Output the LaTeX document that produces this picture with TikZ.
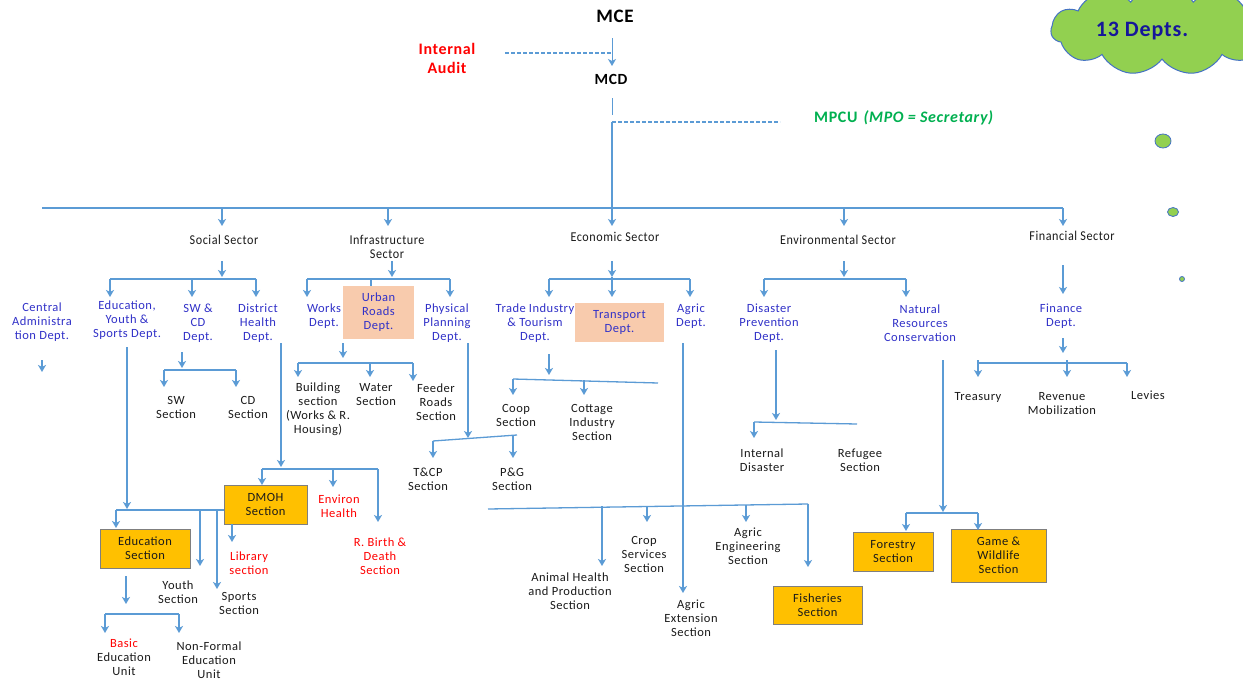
\documentclass[tikz,border=0pt]{standalone}
\usepackage{fontspec}
\setmainfont{Carlito}[LetterSpace=4]
\newfontfamily\sectfont{Carlito}[FakeStretch=0.9,LetterSpace=4]
\usetikzlibrary{arrows.meta,shapes.symbols}
\definecolor{ln}{HTML}{5B9BD5}
\definecolor{deptc}{HTML}{3131C8}
\definecolor{txt}{HTML}{1A1A1A}
\definecolor{redt}{HTML}{FF0000}
\definecolor{grn}{HTML}{00B050}
\definecolor{orng}{HTML}{FFC000}
\definecolor{obord}{HTML}{7F7F7F}
\definecolor{peach}{HTML}{F8CBAD}
\definecolor{cloudg}{HTML}{92D050}
\definecolor{cloudb}{HTML}{4472C4}
\definecolor{cloudt}{HTML}{16169A}
\tikzset{
  conn/.style={draw=ln, line width=1.3pt},
  arr/.style={conn, -{Stealth[length=7pt,width=8pt,inset=2pt]}},
  dashconn/.style={draw=ln, line width=1.3pt, dashed, dash pattern=on 4pt off 2pt},
  lbl/.style={align=center, inner sep=0pt, text=txt, font=\fontsize{12.5}{14}\selectfont},
  deptl/.style={lbl, text=deptc},
  redl/.style={lbl, text=redt},
  sectl/.style={lbl, font=\sectfont\fontsize{13.5}{14}\selectfont},
  obox/.style={lbl, draw=obord, fill=orng, line width=1pt},
  pbox/.style={deptl, fill=peach},
  bubble/.style={draw=cloudb, fill=cloudg, line width=0.8pt},
}
\begin{document}
\begin{tikzpicture}[x=1pt,y=-1pt]
\useasboundingbox (0,0) rectangle (1243,680);
\clip (0,0) rectangle (1243,680);
\fill[white] (0,0) rectangle (1243,680);

% ---------- cloud ----------
\node[cloud, cloud puffs=11, cloud puff arc=115, aspect=2.6, bubble, line width=1pt,
      minimum width=222pt, minimum height=90pt] (cloud) at (1162,30) {};
\node[inner sep=0pt, text=cloudt, font=\bfseries\fontsize{22}{24}\selectfont] (cloudtxt) at (1142,31) {13 Depts.};
\filldraw[bubble] (1163,141) ellipse [x radius=8pt, y radius=7pt];
\filldraw[bubble] (1173,212) ellipse [x radius=5.5pt, y radius=4.5pt];
\filldraw[bubble] (1182,279) ellipse [x radius=2.5pt, y radius=2.5pt];

% ---------- top ----------
\node[inner sep=0pt, text=black, font=\bfseries\fontsize{19}{20}\selectfont] (mce) at (615,16) {MCE};
\node[inner sep=0pt, align=center, text=redt, font=\bfseries\fontsize{16}{19}\selectfont] (ia) at (447,58.5) {Internal\\Audit};
\node[inner sep=0pt, text=black, font=\bfseries\fontsize{15.5}{18}\selectfont] (mcd) at (611,79) {MCD};
\node[inner sep=0pt, text=grn, font=\bfseries\fontsize{16}{18}\selectfont] (mpcu) at (904,118) {MPCU\hspace{6pt}\textit{(MPO = Secretary)}};

% ---------- sectors ----------
\node[sectl] (soc) at (224,240) {Social Sector};
\node[sectl] (inf) at (387,247) {Infrastructure\\Sector};
\node[sectl] (eco) at (615,237) {Economic Sector};
\node[sectl] (env) at (838,240) {Environmental Sector};
\node[sectl] (fin) at (1072,236) {Financial Sector};

% ---------- departments ----------
\node[deptl] (cen) at (42,322) {Central\\Administra\\tion Dept.};
\node[deptl] (eyd) at (127,320.5) {Education,\\Youth \&\\Sports Dept.};
\node[deptl] (swcd) at (198,323) {SW \&\\CD\\Dept.};
\node[deptl] (dh) at (258,323) {District\\Health\\Dept.};
\node[deptl] (works) at (324,316) {Works\\Dept.};
\node[pbox, minimum width=71pt, minimum height=53pt] (urban) at (378.5,312.5) {Urban\\Roads\\Dept.};
\node[deptl] (phys) at (447,323) {Physical\\Planning\\Dept.};
\node[deptl] (trade) at (535,323) {Trade\hspace{3pt}Industry\\\& Tourism\\Dept.};
\node[pbox, minimum width=89pt, minimum height=39pt] (transport) at (619.5,322.5) {Transport\\Dept.};
\node[deptl] (agric) at (691,316) {Agric\\Dept.};
\node[deptl] (disaster) at (769,323) {Disaster\\Prevention\\Dept.};
\node[deptl] (natural) at (920,323) {Natural\\Resources\\Conservation};
\node[deptl] (finance) at (1061,316) {Finance\\Dept.};

% ---------- sections ----------
\node[lbl] (sws) at (176,407) {SW\\Section};
\node[lbl] (cds) at (248,407) {CD\\Section};
\node[lbl] (bld) at (318,409) {Building\\section\\(Works \& R.\\Housing)};
\node[lbl] (wat) at (376,395) {Water\\Section};
\node[lbl] (fed) at (436,402) {Feeder\\Roads\\Section};
\node[lbl] (tcp) at (428,479) {T\&CP\\Section};
\node[lbl] (pg) at (512,479) {P\&G\\Section};
\node[lbl] (coop) at (516,415) {Coop\\Section};
\node[lbl] (cot) at (592,422.5) {Cottage\\Industry\\Section};
\node[lbl] (intd) at (762,460) {Internal\\Disaster};
\node[lbl] (ref) at (860,460) {Refugee\\Section};
\node[lbl] (tre) at (978,397) {Treasury};
\node[lbl] (rev) at (1062,404) {Revenue\\Mobilization};
\node[lbl] (lev) at (1148,395) {Levies};
\node[obox, minimum width=83pt, minimum height=39pt] (dmoh) at (265.5,504.5) {DMOH\\Section};
\node[redl] (envh) at (339,506) {Environ\\Health};
\node[redl] (rbd) at (380,556) {R. Birth \&\\Death\\Section};
\node[obox, minimum width=90pt, minimum height=39pt] (edus) at (145,548.5) {Education\\Section};
\node[redl] (lib) at (249,563) {Library\\section};
\node[lbl] (youth) at (178,592) {Youth\\Section};
\node[lbl] (sports) at (239,603) {Sports\\Section};
\node[lbl] (basic) at (124,657.5) {\textcolor{redt}{Basic}\\Education\\Unit};
\node[lbl] (nfe) at (209,660.5) {Non-Formal\\Education\\Unit};
\node[lbl] (anim) at (570,591.5) {Animal Health\\and Production\\Section};
\node[lbl] (crop) at (644,554.5) {Crop\\Services\\Section};
\node[lbl] (eng) at (748,546.5) {Agric\\Engineering\\Section};
\node[lbl] (ext) at (691,618) {Agric\\Extension\\Section};
\node[obox, minimum width=89pt, minimum height=38pt] (fish) at (817.5,605) {Fisheries\\Section};
\node[obox, minimum width=80pt, minimum height=39pt] (forest) at (893,551.5) {Forestry\\Section};
\node[obox, minimum width=95pt, minimum height=53pt] (game) at (998.5,555.5) {Game \&\\Wildlife\\Section};

% ---------- connector points ----------
\foreach \n/\x/\y in {
  mceB/612/38, mcdT/612/66, iaR/505/53, iaM/612/53, mcdB/612/98, gapT/612/115,
  mpL/612/122, mpR/780/122, econA/612/226,
  busL/42/208, busR/1063/208, finA/1063/226,
  socB/222/208, socA/222/226, infB/388/208, infA/388/226, envB/844/208, envA/844/226,
  soc2T/222/261, soc2A/222/277, sbL/110/279, sbM/192/279, sbR/256/279,
  eydA/110/297, swA/192/297, dhA/256/297,
  inf2T/392/261, inf2A/392/277, ibL/307/279, ibM/371/279, ibR/450/279,
  worksA/307/297, physA/450/297, urbT/371/286,
  eco2T/612/261, eco2A/612/277, ebL/549/279, ebR/690/279,
  tradeA/549/297, transA/612/297, agricA/690/297,
  env2T/844/261, env2A/844/277, vbL/764/279, vbR/906/279, disA/764/297, natA/906/297,
  fin2T/1063/265, fin2A/1063/294,
  cenT/42/360, cenA/42/372,
  swT/182/352, swB/182/368, wbL/164/370, wbR/236/370, swsA/164/387, cdsA/236/387,
  dhT/281/343, dhB/281/467, hbL/262/469, hbM/333/469, hbR/378/469,
  dmohA/262/485, envhA/333/487, rbdA/378/522,
  eydT/127/347, eydB/127/509, qbL/116/510, qbR/224/510, qbY/200/510, qbS/217/510,
  edusA/116/528, youthA/200/566, sportsA/217/589, libT/232/524, libA/232/542,
  edT/126/576, edA/126/604, ubL/105/614, ubR/179/614, basicA/105/633, nfeA/179/633,
  urbB/343/343, urbA/343/358, rbL/298/363, rbM/370/363, rbR/413/363,
  bldA/298/377, watA/370/377, fedA/413/381,
  phT/468/343, phA/468/438, pbL/433/441, pbR/517/435, tcpA/433/458, pgT/513/435, pgA/513/458,
  trT/549/354, trA/549/375, tbL/513/379, tbR/658/383, coopA/513/395, cotT/584/380, cotA/584/395,
  agT/683/343, agA/683/593, abL/488/509, abR/808/504,
  animT/602/506, animA/602/566, cropT/647/506, cropA/647/522, engT/746/505, engA/746/522, fishA/808/567,
  diT/776/350, diA/776/420, dbL/754/422, dbR/857/424, intA/754/438,
  naT/943/360, naA/943/512, nbL/906/513, nbR/978/513, forA/906/531, gameA/978/530,
  fiT/1063/338, fiA/1063/353, fbL/978/363, fbM/1067/360, fbR/1127/363,
  treT/978/360, treA/978/377, revA/1067/377, levA/1127/377
} { \coordinate (\n) at (\x,\y); }

% ---------- connectors ----------
\draw[arr, line width=1pt] (mceB) -- (mcdT);
\draw[dashconn] (iaR) -- (iaM);
\draw[conn, line width=1pt] (mcdB) -- (gapT);
\draw[dashconn] (mpL) -- (mpR);
\draw[arr] (mpL) -- (econA);
\draw[conn] (busL) -- (busR);
\draw[arr] (busR) -- (finA);
\draw[arr] (socB) -- (socA);
\draw[arr] (infB) -- (infA);
\draw[arr] (envB) -- (envA);

% social
\draw[arr] (soc2T) -- (soc2A);
\draw[conn] (sbL) -- (sbR);
\draw[arr] (sbL) -- (eydA);
\draw[arr] (sbM) -- (swA);
\draw[arr] (sbR) -- (dhA);
\draw[arr] (cenT) -- (cenA);
\draw[arr] (swT) -- (swB);
\draw[conn] (wbL) -- (wbR);
\draw[arr] (wbL) -- (swsA);
\draw[arr] (wbR) -- (cdsA);
\draw[arr] (dhT) -- (dhB);
\draw[conn] (hbL) -- (hbR);
\draw[arr] (hbL) -- (dmohA);
\draw[arr] (hbM) -- (envhA);
\draw[arr] (hbR) -- (rbdA);
\draw[arr] (eydT) -- (eydB);
\draw[conn] (qbL) -- (qbR);
\draw[arr] (qbL) -- (edusA);
\draw[arr] (qbY) -- (youthA);
\draw[arr] (qbS) -- (sportsA);
\draw[arr] (libT) -- (libA);
\draw[arr] (edT) -- (edA);
\draw[conn] (ubL) -- (ubR);
\draw[arr] (ubL) -- (basicA);
\draw[arr] (ubR) -- (nfeA);

% infrastructure
\draw[arr] (inf2T) -- (inf2A);
\draw[conn] (ibL) -- (ibR);
\draw[arr] (ibL) -- (worksA);
\draw[arr] (ibR) -- (physA);
\draw[conn] (ibM) -- (urbT);
\draw[arr] (urbB) -- (urbA);
\draw[conn] (rbL) -- (rbR);
\draw[arr] (rbL) -- (bldA);
\draw[arr] (rbM) -- (watA);
\draw[arr] (rbR) -- (fedA);
\draw[arr] (phT) -- (phA);
\draw[conn] (pbL) -- (pbR);
\draw[arr] (pbL) -- (tcpA);
\draw[arr] (pgT) -- (pgA);

% economic
\draw[arr] (eco2T) -- (eco2A);
\draw[conn] (ebL) -- (ebR);
\draw[arr] (ebL) -- (tradeA);
\draw[arr] (eco2A) -- (transA);
\draw[arr] (ebR) -- (agricA);
\draw[arr] (trT) -- (trA);
\draw[conn] (tbL) -- (tbR);
\draw[arr] (tbL) -- (coopA);
\draw[arr] (cotT) -- (cotA);
\draw[arr] (agT) -- (agA);
\draw[conn] (abL) -- (abR);
\draw[arr] (animT) -- (animA);
\draw[arr] (cropT) -- (cropA);
\draw[arr] (engT) -- (engA);
\draw[arr] (abR) -- (fishA);

% environmental
\draw[arr] (env2T) -- (env2A);
\draw[conn] (vbL) -- (vbR);
\draw[arr] (vbL) -- (disA);
\draw[arr] (vbR) -- (natA);
\draw[arr] (diT) -- (diA);
\draw[conn] (dbL) -- (dbR);
\draw[arr] (dbL) -- (intA);
\draw[arr] (naT) -- (naA);
\draw[conn] (nbL) -- (nbR);
\draw[arr] (nbL) -- (forA);
\draw[arr] (nbR) -- (gameA);

% financial
\draw[arr] (fin2T) -- (fin2A);
\draw[arr] (fiT) -- (fiA);
\draw[conn] (treT) |- (fbR);
\draw[arr] (treT) -- (treA);
\draw[arr] (fbM) -- (revA);
\draw[arr] (fbR) -- (levA);
\end{tikzpicture}
\end{document}
